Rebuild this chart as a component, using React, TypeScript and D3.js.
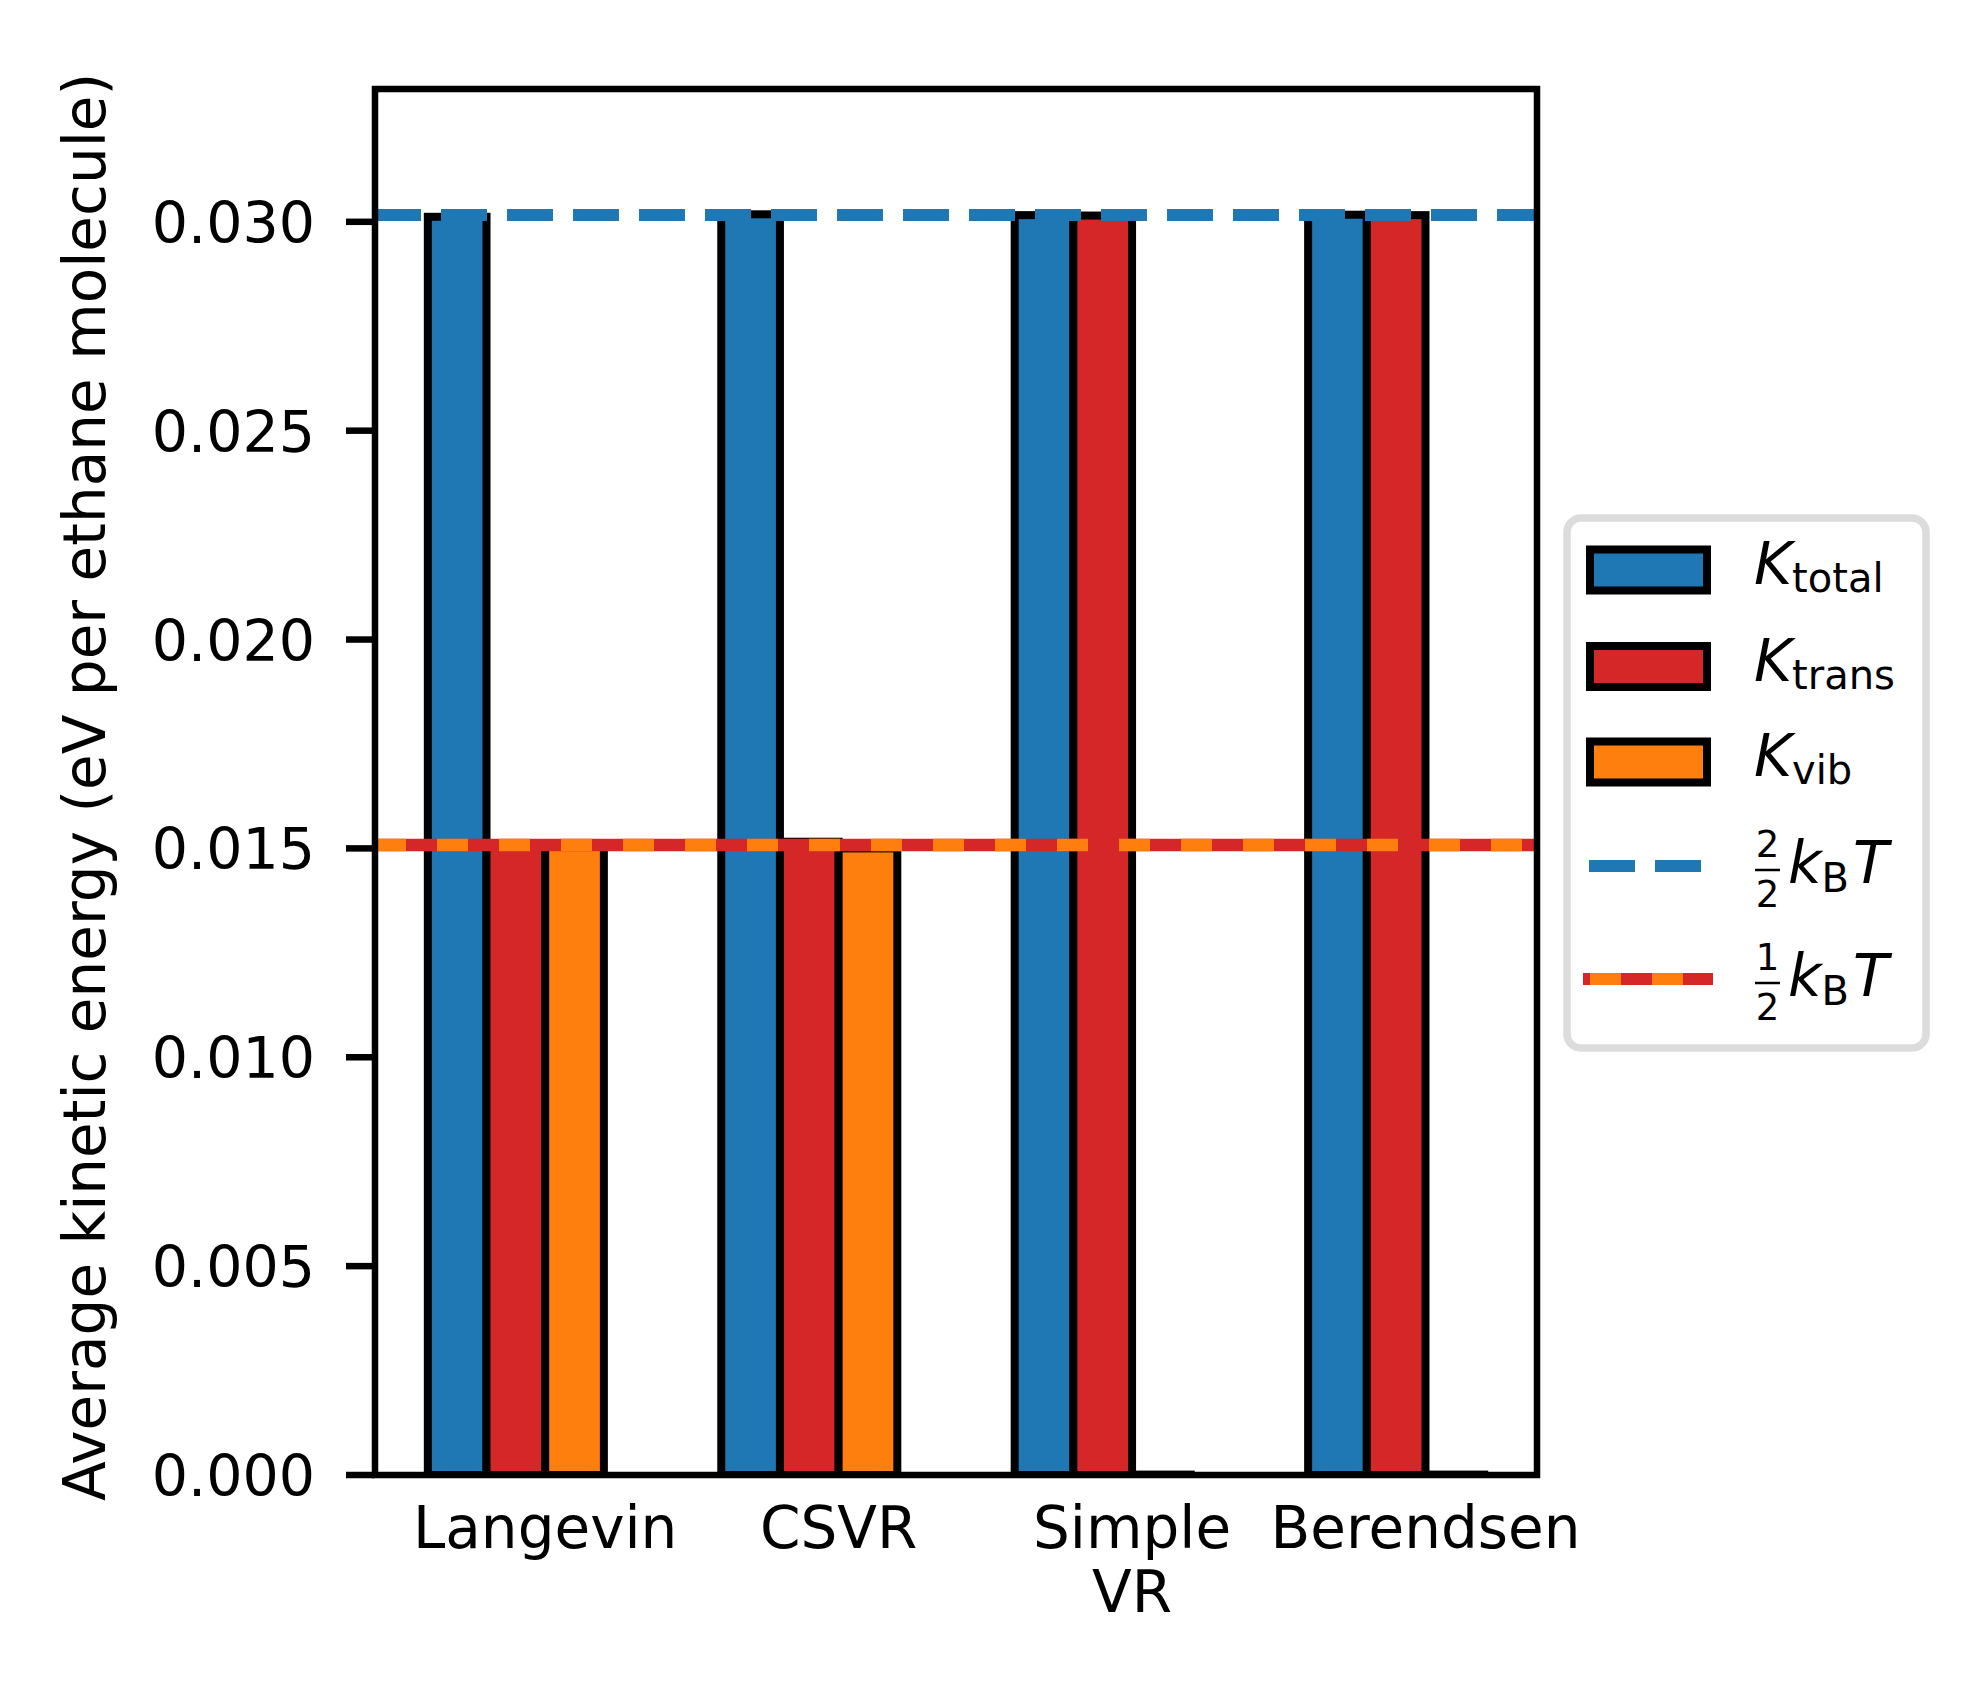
import React from 'react';
import { scaleLinear, format } from 'd3';

// thermostat methods (x categories)
const categories = ['Langevin', 'CSVR', 'Simple\nVR', 'Berendsen'];

// average kinetic energy per ethane molecule (eV)
const kTotal = [0.03012, 0.03018, 0.03016, 0.03017];
const kTrans = [0.01509, 0.01516, 0.03015, 0.03016];
const kVib = [0.01504, 0.015, 0.00001, 0.00001];

// reference lines
const kBT = 0.030163;
const refLevels = [kBT, kBT / 2];

const yTicks = [0, 0.005, 0.01, 0.015, 0.02, 0.025, 0.03];

const seriesColors = ['#1f77b4', '#d62728', '#ff7f0e'];
const barOffsets = [-0.4, -0.2, 0];
const barWidth = 0.2;

const FONT = 'DejaVu Sans';
const FS = 58;

const plot = { left: 375, right: 1537, top: 89, bottom: 1475 };

function Bars({ x, y }: { x: any; y: any }) {
  const series = [kTotal, kTrans, kVib];
  return (
    <g>
      {series.map((vals, s) =>
        vals.map((v, i) => {
          const x0 = x(i + barOffsets[s]);
          const x1 = x(i + barOffsets[s] + barWidth);
          return (
            <rect
              key={`bar-${s}-${i}`}
              x={x0}
              y={y(v)}
              width={x1 - x0}
              height={y(0) - y(v)}
              fill={seriesColors[s]}
              stroke="#000"
              strokeWidth={8}
            />
          );
        })
      )}
    </g>
  );
}

function YAxis({ y }: { y: any }) {
  const fmt = format('.3f');
  return (
    <g>
      {yTicks.map((t) => (
        <g key={`yt-${t}`}>
          <line x1={plot.left - 29} x2={plot.left} y1={y(t)} y2={y(t)} stroke="#000" strokeWidth={6.5} />
          <text x={315} y={y(t) + 21} textAnchor="end" fontSize={57} fontFamily={FONT}>
            {fmt(t)}
          </text>
        </g>
      ))}
      <text
        x={105}
        y={787}
        transform="rotate(-90 105 787)"
        textAnchor="middle"
        fontSize={FS}
        fontFamily={FONT}
      >
        Average kinetic energy (eV per ethane molecule)
      </text>
    </g>
  );
}

function XAxis({ x }: { x: any }) {
  return (
    <g>
      {categories.map((c, i) => (
        <text key={`xl-${c}`} textAnchor="middle" fontSize={FS} fontFamily={FONT}>
          {c.split('\n').map((line, j) => (
            <tspan key={line} x={x(i)} y={1548 + j * 64}>
              {line}
            </tspan>
          ))}
        </text>
      ))}
    </g>
  );
}

function Frac({ x, num, den, bar }: { x: number; num: string; den: string; bar: number }) {
  // bar = y of the fraction bar
  return (
    <g fontFamily={FONT}>
      <text x={x + 12.5} y={bar - 13} textAnchor="middle" fontSize={37}>{num}</text>
      <line x1={x} x2={x + 25} y1={bar} y2={bar} stroke="#000" strokeWidth={2.5} />
      <text x={x + 12.5} y={bar + 37} textAnchor="middle" fontSize={37}>{den}</text>
    </g>
  );
}

function KBT({ baseline }: { baseline: number }) {
  return (
    <text x={1788} y={baseline} fontSize={FS} fontFamily={FONT}>
      <tspan fontStyle="italic">k</tspan>
      <tspan fontSize={40} dy={9}>B</tspan>
      <tspan fontStyle="italic" dy={-9} dx={4}>T</tspan>
    </text>
  );
}

function Legend() {
  const patchRows = [570, 666.5, 762];
  const subs = ['total', 'trans', 'vib'];
  const tx = 1754;
  return (
    <g>
      <rect x={1567} y={518} width={359} height={530} rx={14} fill="#fff" stroke="#dcdcdc" strokeWidth={7.5} />
      {patchRows.map((cy, i) => (
        <g key={`lp-${i}`}>
          <rect x={1590} y={cy - 20.5} width={117} height={41} fill={seriesColors[i]} stroke="#000" strokeWidth={8} />
          <text x={tx} y={cy + 14} fontSize={FS} fontFamily={FONT}>
            <tspan fontStyle="italic">K</tspan>
            <tspan fontSize={40} dy={8}>{subs[i]}</tspan>
          </text>
        </g>
      ))}
      {/* 2/2 kB T */}
      <line x1={1583} x2={1713} y1={866} y2={866} stroke={seriesColors[0]} strokeWidth={12} strokeDasharray="46 20" strokeDashoffset={60} />
      <Frac x={1755} num="2" den="2" bar={870} />
      <KBT baseline={883} />
      {/* 1/2 kB T */}
      <line x1={1583} x2={1713} y1={979} y2={979} stroke={seriesColors[1]} strokeWidth={12} />
      <line x1={1583} x2={1713} y1={979} y2={979} stroke={seriesColors[2]} strokeWidth={12} strokeDasharray="31 31" strokeDashoffset={55} />
      <Frac x={1755} num="1" den="2" bar={983} />
      <KBT baseline={996} />
    </g>
  );
}

export default function App() {
  const x = scaleLinear().domain([-0.58, 3.38]).range([plot.left, plot.right]);
  const y = scaleLinear().domain([0, 1.1 * kBT]).range([plot.bottom, plot.top]);

  return (
    <svg
      width={1987}
      height={1686}
      style={{ position: 'absolute', left: 0, top: 0, background: '#fff' }}
    >
      <rect x={0} y={0} width={1987} height={1686} fill="#fff" />
      <defs>
        <clipPath id="plot-clip">
          <rect x={plot.left} y={plot.top} width={plot.right - plot.left} height={plot.bottom - plot.top} />
        </clipPath>
      </defs>
      <g clipPath="url(#plot-clip)">
        <Bars x={x} y={y} />
        <line x1={plot.left} x2={plot.right} y1={y(refLevels[0])} y2={y(refLevels[0])} stroke={seriesColors[0]} strokeWidth={12} strokeDasharray="46 20" />
        <line x1={plot.left} x2={plot.right} y1={y(refLevels[1])} y2={y(refLevels[1])} stroke={seriesColors[1]} strokeWidth={12.5} />
        <line x1={plot.left} x2={plot.right} y1={y(refLevels[1])} y2={y(refLevels[1])} stroke={seriesColors[2]} strokeWidth={12.5} strokeDasharray="31 31" />
      </g>
      <rect
        x={plot.left}
        y={plot.top}
        width={plot.right - plot.left}
        height={plot.bottom - plot.top}
        fill="none"
        stroke="#000"
        strokeWidth={6.5}
      />
      <YAxis y={y} />
      <XAxis x={x} />
      <Legend />
    </svg>
  );
}
